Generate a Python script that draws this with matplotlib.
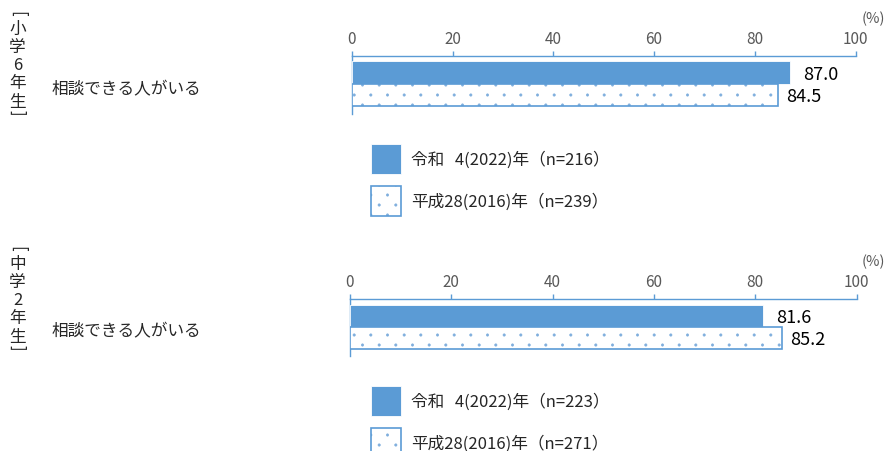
import numpy as np
import matplotlib
matplotlib.use('Agg')
import matplotlib.pyplot as plt
import matplotlib.hatch as mhatch
from matplotlib.path import Path
from matplotlib.legend_handler import HandlerTuple

plt.rcParams['font.family'] = ['Noto Sans CJK JP', 'DejaVu Sans']
plt.rcParams['hatch.linewidth'] = 0.4


# staggered dot texture for the '.' hatch (denser rows than the default)
class StaggerDots(mhatch.HatchPatternBase):
    ncols = 6
    nrows = 10
    radius = 0.012

    def __init__(self, hatch, density):
        circ = Path.unit_circle()
        self.cv = circ.vertices
        self.cc = circ.codes
        pts = []
        for i in range(self.nrows):
            y = (i + 0.5) / self.nrows
            off = 0.0 if i % 2 == 0 else 0.5 / self.ncols
            for j in range(self.ncols):
                pts.append(((j + 0.25) / self.ncols + off, y))
        self.pts = pts
        self.num_vertices = len(pts) * len(self.cv) if hatch.count('.') else 0

    def set_vertices_and_codes(self, vertices, codes):
        n = len(self.cv)
        for k, (x, y) in enumerate(self.pts):
            vertices[k * n:(k + 1) * n] = self.cv * self.radius + (x, y)
            codes[k * n:(k + 1) * n] = self.cc


mhatch._hatch_types = [t for t in mhatch._hatch_types
                       if t is not mhatch.SmallFilledCircles] + [StaggerDots]

# ---------------- data ----------------
grades = ['小学6年生', '中学2年生']
item_label = '相談できる人がいる'
values_2022 = [87.0, 81.6]
values_2016 = [84.5, 85.2]
legend_2022 = ['令和\u20074(2022)年（n=216）', '令和\u20074(2022)年（n=223）']
legend_2016 = ['平成28(2016)年（n=239）', '平成28(2016)年（n=271）']
xticks = [0, 20, 40, 60, 80, 100]
unit_label = '(%)'

# ---------------- layout (pixels) ----------------
W, H = 886, 452
fig = plt.figure(figsize=(W / 100, H / 100), dpi=100)

BLUE = '#5B9BD5'
DOT = '#7FAEDD'
TICKC = '#595959'
TXT = '#262626'

panels = [
    dict(x0=351.7, x1=855.7, y_axis=57, y_bot=115, bar_top=62, bar_bot=107,
         label_y=90, vlab_top=14, leg_y=145, unit_y=19),
    dict(x0=349.7, x1=856.7, y_axis=300, y_bot=357, bar_top=305.7, bar_bot=350,
         label_y=332, vlab_top=249, leg_y=387, unit_y=262),
]

h = 0.4  # bar height (data units)

for i, p in enumerate(panels):
    ax = fig.add_axes([p['x0'] / W, 1 - p['y_bot'] / H,
                       (p['x1'] - p['x0']) / W, (p['y_bot'] - p['y_axis']) / H])
    ppu = (p['bar_bot'] - p['bar_top']) / (2 * h)  # pixels per unit
    mid = (p['bar_top'] + p['bar_bot']) / 2
    ytop = -(mid - p['y_axis']) / ppu
    ybot = (p['y_bot'] - mid) / ppu
    ax.set_ylim(ybot, ytop)
    ax.set_xlim(0, 100)

    b1 = ax.barh([-h / 2], [values_2022[i]], height=h, color=BLUE,
                 edgecolor='white', linewidth=0.6, zorder=3)
    b2h = ax.barh([h / 2], [values_2016[i]], height=h, facecolor='white',
                  edgecolor=DOT, linewidth=0, hatch='.', zorder=3)
    b2o = ax.barh([h / 2], [values_2016[i]], height=h, fill=False,
                  edgecolor=BLUE, linewidth=1.2, zorder=4)

    ax.annotate(f'{values_2022[i]:.1f}', xy=(values_2022[i], -h / 2),
                xytext=(9.4, -1.1), textcoords='offset points',
                ha='left', va='center', fontsize=13, color='black')
    ax.annotate(f'{values_2016[i]:.1f}', xy=(values_2016[i], h / 2),
                xytext=(6.1, -1.1), textcoords='offset points',
                ha='left', va='center', fontsize=13, color='black')

    ax.xaxis.tick_top()
    ax.set_xticks(xticks)
    ax.set_xticklabels([str(t) for t in xticks])
    ax.tick_params(axis='x', direction='out', length=3.6, width=1, color=BLUE,
                   labelsize=11, labelcolor=TICKC, pad=3)
    ax.set_yticks([])
    for s in ['right', 'bottom']:
        ax.spines[s].set_visible(False)
    for s in ['top', 'left']:
        ax.spines[s].set_color(BLUE)
        ax.spines[s].set_linewidth(1)
    ax.patch.set_alpha(0)

    # unit label
    fig.text(873 / W, 1 - p['unit_y'] / H, unit_label, ha='center', va='center',
             fontsize=10.5, color=TICKC)

    # item label
    fig.text(52 / W, 1 - p['label_y'] / H, item_label, ha='left', va='center',
             fontsize=12, color=TXT)

    # vertical grade label with brackets
    xv = 17.5 / W
    fig.text(xv, 1 - p['vlab_top'] / H, '[', rotation=-90, ha='center',
             va='center', fontsize=12, color=TXT)
    for k, ch in enumerate(grades[i]):
        fig.text(xv, 1 - (p['vlab_top'] + 15 + k * 18.3) / H, ch,
                 ha='center', va='center', fontsize=12, color=TXT)
    fig.text(xv, 1 - (p['vlab_top'] + 98.5) / H, ']',
             rotation=-90, ha='center', va='center', fontsize=12, color=TXT)

    # legend
    fig.legend(handles=[b1[0], (b2h[0], b2o[0])],
               labels=[legend_2022[i], legend_2016[i]],
               handler_map={tuple: HandlerTuple(ndivide=1)},
               loc='upper left', bbox_to_anchor=(371 / W, 1 - p['leg_y'] / H),
               bbox_transform=fig.transFigure, frameon=False, borderpad=0,
               borderaxespad=0, handlelength=1.8, handleheight=2.39,
               handletextpad=0.6, labelspacing=0.72, fontsize=12,
               labelcolor=TXT)

fig.savefig('out.png', dpi=100)
